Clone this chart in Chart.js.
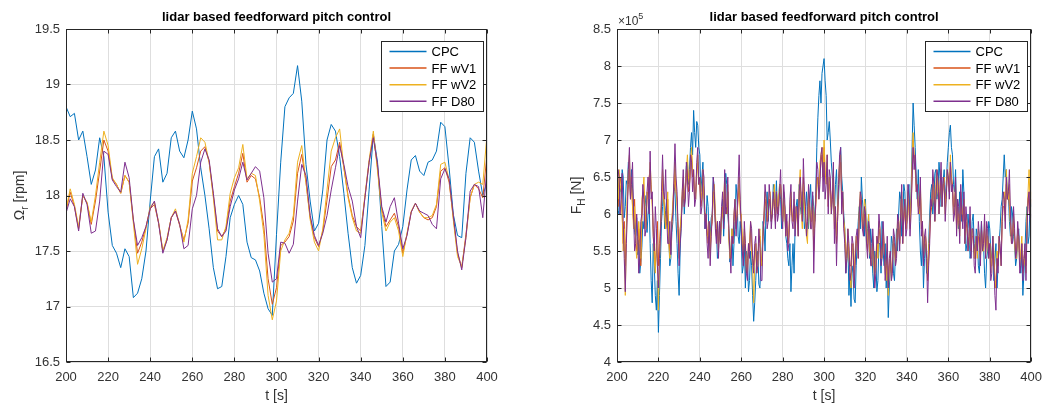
<!DOCTYPE html>
<html lang="en">
<head>
<meta charset="UTF-8">
<title>lidar based feedforward pitch control</title>
<style>
  body { margin: 0; background: #fff; }
  .wrap { position: relative; width: 1050px; height: 407px; }
  canvas { position: absolute; top: 0; }
  #left { left: 0; }
  #right { left: 525px; }
</style>
<script src="https://cdn.jsdelivr.net/npm/chart.js@4"></script>
</head>
<body>
<div class="wrap">
  <canvas id="left" width="525" height="407"></canvas>
  <canvas id="right" width="525" height="407"></canvas>
</div>
<script>
// series names / colours (matlab default order)
const seriesNames = ['CPC', 'FF wV1', 'FF wV2', 'FF D80'];
const seriesColors = ['#0072BD', '#D95319', '#EDB120', '#7E2F8E'];

// left plot: rotor speed [rpm], sampled every 2 s from 200 to 400 s
const tLeft = Array.from({ length: 101 }, (_, i) => 200 + 2 * i);
const omegaCPC = [
  18.80, 18.71, 18.74, 18.50, 18.58, 18.35, 18.10, 18.23, 18.52, 18.35,
  17.85, 17.55, 17.48, 17.35, 17.52, 17.45, 17.08, 17.12, 17.25, 17.50,
  17.95, 18.35, 18.42, 18.12, 18.20, 18.52, 18.58, 18.40, 18.34, 18.50,
  18.76, 18.60, 18.25, 18.00, 17.70, 17.35, 17.16, 17.18, 17.45, 17.80,
  17.92, 18.00, 17.92, 17.58, 17.44, 17.42, 17.32, 17.12, 16.98, 16.92,
  17.65, 18.30, 18.80, 18.88, 18.92, 19.17, 18.85, 18.28, 17.95, 17.68,
  17.75, 18.05, 18.50, 18.64, 18.58, 18.35, 18.02, 17.66, 17.35, 17.21,
  17.28, 17.55, 18.05, 18.55, 18.30, 17.72, 17.18, 17.22, 17.50, 17.56,
  17.72, 18.05, 18.32, 18.36, 18.22, 18.18, 18.30, 18.32, 18.40, 18.66,
  18.62, 18.25, 17.83, 17.64, 17.62, 18.20, 18.52, 18.48, 18.22, 18.00,
  18.12
];
const omegaWV1 = [
  17.86, 18.03, 17.90, 17.70, 18.00, 17.93, 17.74, 17.95, 18.22, 18.50,
  18.40, 18.15, 18.10, 18.02, 18.18, 18.12, 17.78, 17.48, 17.58, 17.72,
  17.88, 17.92, 17.75, 17.50, 17.60, 17.80, 17.86, 17.73, 17.60, 17.75,
  18.13, 18.25, 18.40, 18.44, 18.30, 18.00, 17.68, 17.63, 17.70, 17.95,
  18.08, 18.20, 18.38, 18.12, 18.18, 18.15, 17.98, 17.72, 17.25, 17.02,
  17.17, 17.55, 17.58, 17.63, 17.77, 18.20, 18.37, 18.12, 17.80, 17.62,
  17.54, 17.68, 17.96, 18.26, 18.32, 18.48, 18.25, 18.00, 17.82, 17.72,
  17.68, 17.98, 18.30, 18.55, 18.25, 17.88, 17.72, 17.78, 17.84, 17.72,
  17.48, 17.65, 17.85, 17.93, 17.85, 17.80, 17.78, 17.80, 17.90, 18.22,
  18.25, 18.12, 17.80, 17.48, 17.35, 17.65, 17.98, 18.10, 18.06, 17.98,
  18.37
];
const omegaWV2 = [
  17.87, 18.06, 17.92, 17.72, 18.00, 17.94, 17.76, 18.00, 18.30, 18.58,
  18.45, 18.16, 18.10, 18.02, 18.18, 18.12, 17.75, 17.38, 17.52, 17.70,
  17.90, 17.94, 17.76, 17.50, 17.62, 17.80, 17.88, 17.74, 17.58, 17.78,
  18.20, 18.35, 18.52, 18.48, 18.30, 17.98, 17.60, 17.60, 17.72, 18.02,
  18.16, 18.25, 18.46, 18.15, 18.20, 18.18, 17.95, 17.65, 17.10, 16.88,
  17.05, 17.50, 17.60, 17.66, 17.82, 18.30, 18.45, 18.12, 17.78, 17.58,
  17.50, 17.70, 18.05, 18.40, 18.52, 18.60, 18.25, 17.98, 17.80, 17.68,
  17.66, 18.00, 18.32, 18.58, 18.22, 17.85, 17.68, 17.76, 17.80, 17.68,
  17.45, 17.66, 17.86, 17.93, 17.85, 17.80, 17.80, 17.82, 17.92, 18.28,
  18.30, 18.14, 17.78, 17.45, 17.36, 17.62, 17.98, 18.10, 18.12, 18.10,
  18.55
];
const omegaD80 = [
  17.84, 17.97, 17.90, 17.68, 18.02, 17.92, 17.66, 17.68, 17.95, 18.40,
  18.37, 18.14, 18.08, 18.03, 18.30, 18.16, 17.78, 17.55, 17.62, 17.72,
  17.88, 17.95, 17.75, 17.48, 17.60, 17.80, 17.86, 17.74, 17.52, 17.55,
  17.88, 18.00, 18.30, 18.42, 18.32, 18.02, 17.70, 17.63, 17.68, 17.90,
  18.05, 18.15, 18.30, 18.14, 18.20, 18.26, 18.22, 17.98, 17.48, 17.22,
  17.25, 17.58, 17.57, 17.48, 17.56, 17.95, 18.28, 18.18, 17.82, 17.64,
  17.55, 17.66, 17.82, 18.05, 18.25, 18.45, 18.28, 18.08, 17.95, 17.72,
  17.62, 17.98, 18.30, 18.52, 18.28, 17.90, 17.76, 17.90, 17.98, 17.75,
  17.52, 17.64, 17.85, 17.93, 17.86, 17.84, 17.82, 17.74, 17.70, 18.15,
  18.24, 18.15, 17.82, 17.50, 17.33, 17.62, 18.04, 18.10, 18.08, 17.80,
  18.25
];

// right plot: hub force F_H in units of 1e5 N, sampled every 0.5 s
// (one row = 10 s)
const tRight = Array.from({ length: 401 }, (_, i) => 200 + 0.5 * i);
const forceCPC = [
  6.45,6.05, 6.00,6.35, 6.30,6.60, 6.50,5.95, 6.10,6.45, 6.40,6.70, 6.55,6.25, 6.60,6.35, 6.10,5.75, 5.70,5.95,
  5.45,5.65, 5.20,5.35, 5.55,5.90, 5.80,6.25, 6.10,5.75, 6.00,6.20, 5.60,5.10, 4.80,5.60, 5.30,4.90, 4.70,5.10,
  4.40,4.90, 5.40,5.90, 6.10,6.40, 5.80,6.05, 6.20,5.85, 5.70,5.30, 5.40,5.75, 5.90,6.40, 6.30,5.90, 5.60,5.20,
  4.90,5.50, 5.90,6.20, 6.40,6.00, 6.30,6.65, 6.70,6.40, 6.60,6.90, 7.10,6.80, 7.40,7.10, 6.90,7.25, 7.20,6.90,
  6.80,6.30, 6.50,6.70, 6.20,5.80, 5.90,6.25, 6.10,5.60, 5.70,5.95, 6.00,6.50, 6.30,5.90, 5.80,5.40, 5.50,5.90,
  5.70,6.00, 6.20,5.70, 6.00,6.55, 6.40,6.00, 5.80,5.35, 5.50,5.80, 5.30,5.60, 5.90,6.40, 6.20,5.70, 5.60,5.90,
  5.70,5.20, 5.30,5.60, 5.00,5.50, 5.40,4.95, 5.10,5.50, 5.30,4.90, 4.55,4.80, 5.10,5.40, 5.50,5.05, 5.00,5.30,
  5.40,5.90, 5.80,5.50, 6.10,6.30, 5.90,6.15, 6.20,5.90, 6.00,6.40, 6.30,6.10, 6.45,6.00, 6.10,6.40, 6.20,5.80,
  5.90,6.30, 6.10,5.70, 5.60,5.40, 5.30,5.60, 4.95,5.30, 5.60,5.20, 5.80,6.10, 6.20,5.90, 6.40,6.10, 6.00,6.30,
  6.20,5.80, 5.90,6.30, 6.10,5.80, 6.20,6.40, 6.00,6.25, 6.10,5.90, 6.30,6.90, 7.30,7.60, 7.80,7.50, 7.90,8.00,
  8.10,7.80, 7.60,7.00, 7.10,7.25, 7.00,6.70, 6.50,6.20, 6.00,6.40, 6.60,6.10, 6.20,6.70, 6.90,6.50, 6.30,6.00,
  5.80,5.20, 5.40,5.60, 4.90,5.20, 4.75,5.30, 5.20,4.85, 4.80,5.30, 5.60,5.90, 6.10,5.80, 6.50,6.20, 6.00,5.70,
  6.20,5.60, 5.80,6.00, 5.40,5.80, 5.60,5.20, 5.00,5.50, 5.40,4.95, 5.10,5.60, 5.60,5.20, 5.90,5.50, 5.30,5.60,
  5.00,5.30, 4.60,5.00, 5.30,5.70, 5.60,5.20, 5.10,5.50, 5.80,5.50, 6.00,6.30, 6.20,5.70, 5.90,6.40, 6.30,5.90,
  6.00,6.30, 6.40,5.90, 6.30,6.90, 7.50,7.20, 6.90,6.50, 6.20,6.60, 5.90,5.50, 5.30,5.70, 5.00,5.40, 5.60,5.20,
  5.20,5.60, 6.00,6.30, 6.40,6.00, 6.20,6.55, 6.60,6.20, 6.30,6.70, 6.50,6.10, 6.20,6.45, 6.60,6.20, 6.40,6.70,
  6.90,7.10, 7.20,6.90, 6.80,6.40, 6.30,6.60, 6.00,6.20, 5.80,6.30, 6.20,5.90, 6.60,6.30, 5.90,5.50, 5.60,6.00,
  5.80,5.40, 5.50,5.90, 6.00,5.60, 5.40,5.80, 5.70,5.30, 5.20,5.60, 5.90,5.50, 5.60,5.20, 5.00,5.40, 5.50,5.90,
  5.80,5.50, 5.40,5.70, 5.10,5.40, 5.60,5.00, 5.30,5.60, 5.80,6.10, 6.20,6.50, 6.80,6.50, 6.60,6.20, 6.30,5.90,
  5.70,6.10, 6.00,5.70, 5.60,5.30, 5.40,5.70, 5.80,5.40, 5.20,5.50, 4.90,5.20, 5.50,5.90, 6.10,5.60, 5.70,6.20,
  6.10
];
const forceWV1 = [
  6.40,6.10, 6.30,6.50, 6.40,6.00, 5.60,5.90, 5.30,5.80, 6.20,6.40, 6.60,6.20, 6.50,6.10, 5.90,6.20, 5.70,5.50,
  5.50,5.80, 5.60,5.30, 5.90,6.20, 6.30,6.00, 5.90,6.20, 6.30,6.50, 6.60,6.30, 6.20,5.80, 5.60,5.30, 5.50,5.90,
  5.30,5.60, 5.80,6.10, 6.50,6.20, 6.10,5.80, 5.90,6.20, 5.70,5.50, 5.60,5.90, 6.10,6.30, 6.60,6.30, 6.20,5.80,
  5.50,5.80, 5.90,6.20, 6.40,6.10, 6.30,6.50, 6.60,6.30, 6.40,6.60, 6.80,6.50, 6.50,6.20, 6.30,6.60, 6.70,6.40,
  6.40,6.10, 6.20,6.50, 6.30,6.00, 6.00,5.80, 5.60,5.80, 5.50,5.80, 5.90,6.30, 6.20,5.90, 5.70,5.90, 5.60,5.70,
  5.80,6.00, 6.10,5.90, 6.40,6.10, 6.00,6.30, 5.70,5.50, 5.40,5.70, 5.60,5.90, 6.10,5.80, 6.00,6.20, 6.40,6.10,
  5.90,5.60, 5.40,5.70, 5.50,5.20, 5.30,5.60, 5.50,5.80, 5.60,5.40, 5.30,5.50, 5.60,5.30, 5.40,5.60, 5.70,5.30,
  5.40,5.70, 5.90,6.20, 6.10,5.90, 6.00,6.20, 6.10,5.90, 6.00,6.20, 6.20,5.90, 6.30,6.00, 6.10,6.30, 6.40,6.10,
  5.90,6.20, 6.10,5.80, 5.90,5.60, 5.70,6.00, 6.20,6.00, 5.90,6.10, 5.80,6.00, 6.00,5.80, 6.20,6.40, 6.10,6.00,
  6.50,6.20, 6.00,5.80, 5.90,6.20, 6.10,5.90, 5.90,6.10, 5.50,5.90, 6.10,6.40, 6.50,6.30, 6.50,6.70, 6.80,6.50,
  6.90,6.50, 6.50,6.70, 6.10,6.40, 6.40,6.10, 6.30,6.50, 5.80,6.00, 5.60,5.90, 6.30,6.60, 6.70,6.20, 6.20,5.90,
  5.70,5.40, 5.50,5.70, 5.50,5.30, 5.30,5.60, 5.50,5.20, 5.40,5.60, 5.70,5.50, 6.00,6.20, 6.10,5.90, 5.80,6.00,
  5.90,5.70, 5.50,5.80, 5.70,5.40, 5.40,5.60, 5.40,5.20, 5.30,5.60, 5.50,5.80, 5.70,5.40, 5.50,5.70, 5.50,5.30,
  5.20,5.50, 5.10,5.30, 5.40,5.20, 5.30,5.60, 5.60,5.40, 5.50,5.80, 5.80,5.60, 6.00,6.20, 5.70,5.90, 6.10,5.80,
  5.90,6.20, 6.10,5.90, 6.10,6.50, 7.00,6.80, 6.70,6.40, 6.30,6.10, 6.10,6.30, 5.80,5.90, 5.40,5.60, 5.70,5.50,
  5.10,5.40, 5.70,6.00, 6.10,6.40, 6.30,6.00, 6.30,6.50, 6.40,6.10, 6.30,6.50, 6.20,6.40, 6.40,6.10, 6.30,6.50,
  6.50,6.30, 6.70,6.50, 6.40,6.10, 6.10,6.30, 5.80,6.00, 6.00,5.80, 6.30,6.10, 5.90,6.20, 5.70,5.90, 5.80,5.60,
  5.70,5.90, 5.50,5.70, 5.70,5.50, 5.40,5.60, 5.50,5.70, 5.60,5.40, 5.80,5.60, 5.60,5.80, 5.50,5.70, 5.70,5.50,
  5.60,5.30, 5.30,5.60, 5.40,5.10, 5.00,5.40, 5.30,5.60, 5.50,5.40, 5.90,6.10, 6.10,6.00, 6.40,6.20, 6.30,6.10,
  5.90,5.70, 5.70,5.90, 5.70,5.50, 5.50,5.80, 5.70,5.40, 5.40,5.60, 5.20,5.40, 5.50,5.30, 5.90,6.10, 6.30,6.00,
  6.20
];
const forceWV2 = [
  6.50,6.20, 6.60,6.40, 6.30,6.00, 5.50,5.80, 4.90,5.60, 6.30,6.60, 6.80,6.30, 6.40,6.10, 5.80,6.10, 5.60,5.40,
  5.60,5.90, 5.70,5.40, 6.20,6.30, 6.50,6.10, 5.80,6.30, 6.20,6.40, 6.70,6.40, 6.10,5.70, 5.40,5.20, 5.60,5.40,
  4.70,5.30, 5.90,6.20, 6.60,6.30, 6.00,5.80, 6.00,6.30, 5.60,5.40, 5.50,5.90, 6.20,6.40, 6.70,6.40, 6.10,5.70,
  5.40,5.80, 6.00,6.30, 6.50,6.20, 6.40,6.60, 6.80,6.50, 6.40,6.70, 6.90,6.60, 6.60,6.30, 6.20,6.50, 6.80,6.40,
  6.50,6.20, 6.30,6.60, 6.20,5.90, 5.90,5.70, 5.70,5.90, 5.40,5.80, 6.00,6.20, 6.40,6.00, 5.80,5.80, 5.50,5.80,
  5.60,5.90, 6.00,6.20, 6.50,6.10, 6.10,6.40, 5.70,5.40, 5.50,5.80, 5.70,6.00, 6.20,5.90, 6.00,6.30, 6.50,6.00,
  6.00,5.70, 5.50,5.80, 5.60,5.30, 5.20,5.50, 5.60,5.90, 5.50,5.30, 4.80,5.30, 5.60,5.20, 5.30,5.70, 5.80,5.40,
  5.30,5.80, 6.00,6.30, 6.20,5.90, 6.10,6.30, 6.30,6.00, 6.00,6.20, 6.40,6.00, 6.30,6.10, 6.20,6.40, 6.40,6.20,
  5.90,6.30, 6.00,5.70, 5.80,5.60, 5.80,6.10, 6.30,6.00, 5.90,6.20, 5.80,6.10, 5.90,5.70, 6.40,6.60, 6.00,5.80,
  6.40,6.10, 5.90,5.70, 5.60,6.30, 6.10,5.80, 6.00,6.20, 5.70,5.90, 6.20,6.50, 6.40,6.20, 6.70,6.80, 6.90,6.50,
  7.00,6.60, 6.40,6.80, 6.20,6.50, 6.30,6.00, 6.20,6.60, 5.90,6.10, 5.70,6.00, 6.50,6.70, 6.80,6.30, 6.30,5.90,
  5.80,5.30, 5.40,5.80, 5.40,5.20, 5.00,5.50, 5.60,5.10, 5.50,5.70, 5.60,5.40, 6.10,6.30, 6.20,5.80, 5.90,6.20,
  6.10,5.80, 5.60,6.00, 5.50,5.40, 5.30,5.70, 5.30,5.10, 5.40,5.70, 5.40,5.90, 5.80,5.40, 5.40,5.80, 5.60,5.20,
  5.10,5.60, 4.90,5.30, 5.50,5.10, 5.40,5.70, 5.50,5.30, 5.60,5.90, 5.90,5.60, 6.10,6.30, 5.60,6.00, 6.20,5.80,
  5.90,6.30, 6.00,5.80, 6.20,6.70, 7.10,6.70, 6.60,6.30, 6.40,6.10, 6.00,6.40, 5.90,5.80, 5.50,5.70, 5.70,5.40,
  5.20,5.50, 5.80,6.10, 6.10,6.50, 6.30,5.90, 6.40,6.60, 6.30,6.00, 6.40,6.60, 6.10,6.40, 6.50,6.00, 6.30,6.60,
  6.50,6.30, 6.80,6.40, 6.30,6.00, 6.20,6.40, 5.80,6.10, 5.90,5.70, 6.20,6.00, 6.00,6.20, 5.60,6.00, 5.90,5.50,
  5.60,6.00, 5.60,5.80, 5.70,5.40, 5.50,5.70, 5.40,5.80, 5.70,5.40, 5.80,5.50, 5.50,5.90, 5.40,5.80, 5.60,5.40,
  5.60,5.20, 5.40,5.70, 5.50,5.00, 5.10,5.50, 5.40,5.70, 5.50,5.30, 6.00,6.20, 6.30,5.90, 6.60,6.30, 6.20,6.40,
  5.80,5.60, 5.70,6.00, 5.60,5.40, 5.40,5.80, 5.60,5.30, 5.50,5.70, 5.20,5.30, 5.40,5.20, 6.00,6.30, 6.60,6.10,
  6.30
];
const forceD80 = [
  6.30,6.60, 6.50,6.00, 6.20,6.55, 5.90,5.40, 4.95,5.60, 6.00,6.60, 6.90,6.20, 6.40,6.70, 6.00,5.50, 5.60,6.00,
  5.70,5.20, 5.40,5.90, 6.00,6.40, 6.20,5.70, 5.80,6.30, 6.50,6.00, 6.85,6.20, 6.30,5.70, 5.50,6.10, 5.80,5.30,
  5.00,5.40, 5.70,6.30, 6.80,6.30, 6.20,6.60, 6.00,5.60, 5.60,5.90, 5.45,5.90, 6.00,6.50, 6.95,6.50, 6.30,5.80,
  5.30,5.60, 5.80,6.30, 6.60,6.10, 6.20,6.70, 6.50,6.10, 6.30,6.80, 6.70,6.30, 6.60,6.10, 6.20,6.70, 6.90,6.40,
  6.50,6.00, 6.10,6.60, 6.50,5.80, 6.00,5.60, 5.40,5.90, 5.30,5.70, 6.00,6.50, 6.30,5.80, 5.60,5.90, 5.40,5.90,
  5.60,6.10, 6.30,5.80, 6.60,6.00, 6.10,6.50, 5.80,5.50, 5.20,5.70, 5.60,6.00, 6.20,5.70, 6.00,6.40, 6.80,6.20,
  5.80,5.50, 5.30,5.90, 5.60,5.20, 5.10,5.60, 5.40,5.90, 5.80,5.40, 5.20,5.60, 5.70,5.20, 5.30,5.80, 5.60,5.10,
  5.10,5.70, 6.00,6.40, 6.20,5.80, 5.90,6.40, 6.20,5.80, 6.00,6.30, 6.10,5.80, 6.30,5.90, 6.00,6.30, 6.60,6.00,
  5.80,6.40, 6.20,5.70, 6.00,5.50, 5.60,6.20, 6.40,5.90, 5.80,6.30, 5.70,6.10, 6.10,5.70, 6.30,6.50, 6.20,5.90,
  6.75,6.30, 6.10,5.70, 5.90,6.40, 6.20,5.80, 5.80,6.30, 5.20,5.80, 6.20,6.70, 6.60,6.20, 6.40,6.80, 6.90,6.30,
  6.70,6.20, 6.40,6.80, 6.00,6.60, 6.50,6.00, 6.20,6.70, 5.60,6.10, 5.30,5.90, 6.40,6.80, 6.90,6.00, 6.30,5.80,
  5.60,5.20, 5.40,5.80, 5.60,5.10, 5.20,5.70, 5.60,5.00, 5.30,5.70, 5.80,5.40, 6.00,6.30, 6.20,5.80, 5.70,6.10,
  6.00,5.60, 5.40,5.90, 5.80,5.30, 5.30,5.80, 5.50,5.00, 5.20,5.70, 5.60,6.00, 5.80,5.30, 5.40,5.90, 5.60,5.10,
  5.30,5.70, 5.00,5.40, 5.50,5.10, 5.20,5.80, 5.70,5.30, 5.40,6.00, 5.90,5.50, 6.00,6.40, 5.60,6.00, 6.20,5.70,
  5.80,6.40, 6.20,5.70, 6.00,6.50, 6.90,6.60, 6.80,6.30, 6.40,6.00, 6.10,6.50, 5.70,5.90, 5.30,5.70, 5.80,5.40,
  4.80,5.30, 5.60,6.20, 6.10,6.60, 6.40,5.90, 6.20,6.60, 6.50,6.00, 6.30,6.70, 6.10,6.50, 6.40,5.90, 6.20,6.60,
  6.50,6.20, 6.70,6.30, 6.40,5.90, 6.00,6.50, 5.70,6.20, 6.10,5.60, 6.40,6.00, 5.80,6.30, 5.60,6.10, 5.90,5.50,
  5.70,6.10, 5.40,5.80, 5.80,5.30, 5.20,5.70, 5.50,5.90, 5.70,5.30, 5.90,5.50, 5.60,6.00, 5.40,5.90, 5.80,5.40,
  5.60,5.10, 5.20,5.70, 5.30,4.90, 4.70,5.40, 5.20,5.70, 5.60,5.30, 5.90,6.30, 6.20,5.80, 6.50,6.20, 6.30,6.60,
  6.00,5.60, 5.60,6.10, 5.80,5.40, 5.50,5.90, 5.70,5.20, 5.30,5.60, 5.10,5.40, 5.60,5.10, 5.80,6.20, 6.30,5.90,
  6.00
];

const FONT = '"Liberation Sans", Arial, Helvetica, sans-serif';
const AXIS_COLOR = '#262626';
const TEXT_COLOR = '#333333';
const GRID_COLOR = '#dedede';

function pts(t, v) {
  return t.map((x, i) => ({ x: x, y: v[i] }));
}

// matlab-like decorations: box, inward ticks, title, labels, legend
const matlabDeco = {
  id: 'matlabDeco',
  afterDraw(chart, args, o) {
    const ctx = chart.ctx;
    const a = chart.chartArea;
    const xs = chart.scales.x, ys = chart.scales.y;
    ctx.save();

    // box + ticks
    ctx.strokeStyle = AXIS_COLOR;
    ctx.lineWidth = 1;
    const L = Math.round(a.left) + 0.5, R = Math.round(a.right) - 0.5;
    const T = Math.round(a.top) + 0.5, B = Math.round(a.bottom) - 0.5;
    ctx.strokeRect(L, T, R - L, B - T);
    ctx.beginPath();
    xs.ticks.forEach(tk => {
      const px = Math.round(xs.getPixelForValue(tk.value)) + 0.5;
      ctx.moveTo(px, B); ctx.lineTo(px, B - 4);
      ctx.moveTo(px, T); ctx.lineTo(px, T + 4);
    });
    ys.ticks.forEach(tk => {
      const py = Math.round(ys.getPixelForValue(tk.value)) + 0.5;
      ctx.moveTo(L, py); ctx.lineTo(L + 4, py);
      ctx.moveTo(R, py); ctx.lineTo(R - 4, py);
    });
    ctx.stroke();

    // title
    ctx.fillStyle = '#000';
    ctx.font = 'bold 13px ' + FONT;
    ctx.textAlign = 'center';
    ctx.textBaseline = 'middle';
    ctx.fillText(o.title, (a.left + a.right) / 2, 17);

    // x label
    ctx.fillStyle = TEXT_COLOR;
    ctx.font = '14px ' + FONT;
    ctx.fillText(o.xLabel, (a.left + a.right) / 2, 396);

    // y label with subscript, rotated
    ctx.save();
    ctx.translate(o.yLabelX, (a.top + a.bottom) / 2);
    ctx.rotate(-Math.PI / 2);
    const big = '14px ' + FONT, small = '10px ' + FONT;
    ctx.font = big;
    const w1 = ctx.measureText(o.yMain).width;
    const w3 = ctx.measureText(o.yRest).width;
    ctx.font = small;
    const w2 = ctx.measureText(o.ySub).width;
    let x = -(w1 + w2 + w3) / 2;
    ctx.textAlign = 'left';
    ctx.textBaseline = 'alphabetic';
    ctx.font = big; ctx.fillText(o.yMain, x, 5); x += w1;
    ctx.font = small; ctx.fillText(o.ySub, x, 9); x += w2;
    ctx.font = big; ctx.fillText(o.yRest, x, 5);
    ctx.restore();

    // exponent label
    if (o.exponent) {
      ctx.textAlign = 'left';
      ctx.textBaseline = 'alphabetic';
      ctx.font = '12px ' + FONT;
      ctx.fillText('\u00d710', a.left + 1, 25);
      const w = ctx.measureText('\u00d710').width;
      ctx.font = '9px ' + FONT;
      ctx.fillText(o.exponent, a.left + 1 + w, 19);
    }

    // legend
    const bw = 102, bh = 70;
    const bx = Math.round(a.right - 4 - bw) + 0.5, by = Math.round(a.top + 12) + 0.5;
    ctx.fillStyle = '#fff';
    ctx.fillRect(bx, by, bw, bh);
    ctx.strokeStyle = AXIS_COLOR;
    ctx.lineWidth = 1;
    ctx.strokeRect(bx, by, bw, bh);
    ctx.font = '13px ' + FONT;
    ctx.textAlign = 'left';
    ctx.textBaseline = 'middle';
    chart.data.datasets.forEach((ds, i) => {
      const ry = by + 10 + i * 16.6;
      ctx.strokeStyle = ds.borderColor;
      ctx.lineWidth = 1.5;
      ctx.beginPath();
      ctx.moveTo(bx + 8, ry); ctx.lineTo(bx + 45, ry);
      ctx.stroke();
      ctx.fillStyle = '#000';
      ctx.fillText(ds.label, bx + 50, ry + 1);
    });
    ctx.restore();
  }
};

function makeChart(id, t, series, yMin, yMax, yWidth, padRight, deco) {
  const datasets = series.map((v, i) => ({
    label: seriesNames[i],
    data: pts(t, v),
    borderColor: seriesColors[i],
    borderWidth: 1,
    pointRadius: 0,
    tension: 0,
    fill: false,
    order: series.length - 1 - i   // last series painted on top, like matlab
  }));
  return new Chart(document.getElementById(id), {
    type: 'line',
    data: { datasets: datasets },
    options: {
      responsive: false,
      animation: false,
      layout: { padding: { top: 29, right: padRight, left: 0, bottom: 0 } },
      plugins: {
        legend: { display: false },
        title: { display: false },
        tooltip: { enabled: false },
        matlabDeco: deco
      },
      scales: {
        x: {
          type: 'linear',
          min: 200, max: 400,
          afterFit: s => { s.height = 45; },
          grid: { color: GRID_COLOR, drawTicks: false },
          border: { display: false },
          ticks: {
            stepSize: 20, padding: 8, maxRotation: 0,
            color: TEXT_COLOR, font: { family: FONT, size: 13 },
            callback: v => String(v)
          }
        },
        y: {
          min: yMin, max: yMax,
          afterFit: s => { s.width = yWidth; },
          grid: { color: GRID_COLOR, drawTicks: false },
          border: { display: false },
          ticks: {
            stepSize: 0.5, padding: 6,
            color: TEXT_COLOR, font: { family: FONT, size: 13 },
            callback: v => String(v)
          }
        }
      }
    },
    plugins: [matlabDeco]
  });
}

makeChart('left', tLeft, [omegaCPC, omegaWV1, omegaWV2, omegaD80], 16.5, 19.5, 66, 38, {
  title: 'lidar based feedforward pitch control',
  xLabel: 't [s]',
  yMain: '\u03a9', ySub: 'r', yRest: ' [rpm]',
  yLabelX: 19
});

makeChart('right', tRight, [forceCPC, forceWV1, forceWV2, forceD80], 4, 8.5, 92, 13, {
  title: 'lidar based feedforward pitch control',
  xLabel: 't [s]',
  yMain: 'F', ySub: 'H', yRest: ' [N]',
  yLabelX: 51,
  exponent: '5'
});
</script>
</body>
</html>
